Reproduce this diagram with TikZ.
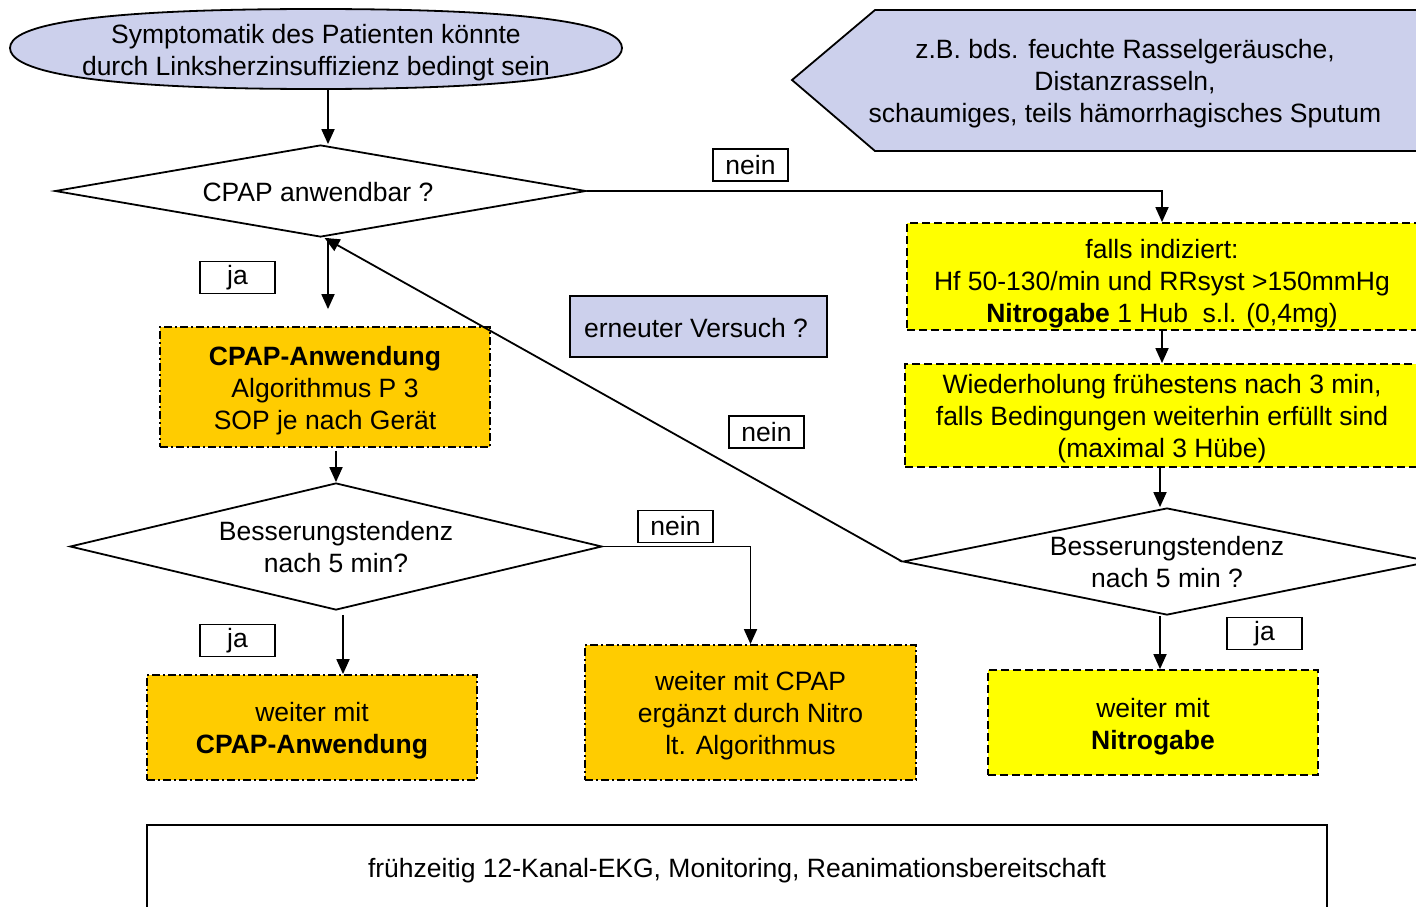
\documentclass[tikz,border=0pt]{standalone}
\usepackage{fontspec}
\setmainfont{Liberation Sans}
\usetikzlibrary{shapes.geometric,arrows.meta}
\definecolor{lav}{RGB}{204,208,236}
\definecolor{ora}{RGB}{255,204,0}
\definecolor{yel}{RGB}{255,255,0}

\begin{document}
\begin{tikzpicture}[x=1pt,y=-1pt,
  txt/.style={font=\fontsize{26.5}{32}\selectfont, align=center, inner sep=0pt},
  conn/.style={line width=1.8pt},
  arr/.style={conn, -{Triangle[length=15pt,width=13pt]}},
  dia/.style={draw, shape=diamond, line width=1.8pt, inner sep=0pt, fill=white},
  ybox/.style={draw, fill=yel, line width=1.8pt, dash pattern=on 8pt off 4pt, inner sep=0pt},
  obox/.style={draw, fill=ora, line width=1.8pt, dash pattern=on 8pt off 3pt on 2pt off 3pt, inner sep=0pt},
  lbl/.style={txt, draw, fill=white, line width=1.5pt, minimum width=75pt, minimum height=32pt},
]
\useasboundingbox (0,0) rectangle (1416,906);
\clip (0,0) rectangle (1416,906);

% start shape: a full, flat-topped oval
\draw[fill=lav, line width=1.8pt]
  (316,9) .. controls (70,9) and (10,28) .. (10,48)
          .. controls (10,68) and (70,89) .. (316,89)
          .. controls (562,89) and (622,68) .. (622,48)
          .. controls (622,28) and (562,9) .. (316,9) -- cycle;
\node[inner sep=0pt, minimum width=612pt, minimum height=80pt] (start) at (316,49) {};
\node[txt] (starttxt) at (316,53) {Symptomatik des Patienten könnte\\durch Linksherzinsuffizienz bedingt sein};

% hint shape (pointing left)
\draw[line width=1.8pt, fill=lav] (792,80) -- (875,10) -- (1440,10) -- (1440,151) -- (875,151) -- cycle;
\node[txt] (hint) at (1125,84) {z.B. bds. feuchte Rasselgeräusche,\\Distanzrasseln,\\schaumiges, teils hämorrhagisches Sputum};

% decisions
\node[dia, minimum width=531pt, minimum height=92pt] (d1) at (320.5,191) {};
\node[txt] (d1txt) at (318,192) {CPAP anwendbar ?};

\node[dia, minimum width=532pt, minimum height=127pt] (d2) at (336,546.5) {};
\node[txt] (d2txt) at (336,547) {Besserungstendenz\\nach 5 min?};

\node[dia, minimum width=528pt, minimum height=107pt] (d3) at (1167,561.5) {};
\node[txt] (d3txt) at (1167,562) {Besserungstendenz\\nach 5 min ?};

% CPAP branch
\node[obox, minimum width=330pt, minimum height=120pt] (cpap) at (325,387) {};
\node[txt] (cpaptxt) at (325,391) {\textbf{CPAP-Anwendung}\\Algorithmus P 3\\SOP je nach Gerät};
\node[obox, minimum width=330pt, minimum height=105pt] (abox) at (312,727.5) {};
\node[txt] (aboxtxt) at (312,731) {weiter mit\\\textbf{CPAP-Anwendung}};
\node[obox, minimum width=331pt, minimum height=135pt] (cbox) at (750.5,712.5) {};
\node[txt] (cboxtxt) at (750.5,716) {weiter mit CPAP\\ergänzt durch Nitro\\lt. Algorithmus};

% nitro branch
\node[ybox, minimum width=510pt, minimum height=107pt] (y1) at (1162,276.5) {};
\node[txt] (y1txt) at (1162,283.5) {falls indiziert:\\Hf 50-130/min und RRsyst >150mmHg\\\textbf{Nitrogabe} 1 Hub\ \ s.l. (0,4mg)};
\node[ybox, minimum width=514pt, minimum height=103pt] (y2) at (1162,415.5) {};
\node[txt] (y2txt) at (1162,418.5) {Wiederholung frühestens nach 3 min,\\falls Bedingungen weiterhin erfüllt sind\\(maximal 3 Hübe)};
\node[ybox, minimum width=330pt, minimum height=105pt] (nbox) at (1153,722.5) {};
\node[txt] (nboxtxt) at (1153,726.5) {weiter mit\\\textbf{Nitrogabe}};

% retry note
\node[draw, fill=lav, line width=1.5pt, minimum width=257pt, minimum height=61pt, inner sep=0pt] (retry) at (698.5,326.5) {};
\node[txt] (retrytxt) at (696,328.5) {erneuter Versuch ?};

% bottom note
\node[draw, line width=1.5pt, minimum width=1180pt, minimum height=86pt, inner sep=0pt] (note) at (737,868) {};
\node[txt] (notetxt) at (737,871) {frühzeitig 12-Kanal-EKG, Monitoring, Reanimationsbereitschaft};

% connectors
\draw[arr] ([xshift=12pt]start.south) -- ([xshift=12pt]start.south |- d1.north);
\draw[arr] (d1.east) -| (y1.north);
\draw[arr, shorten >=17pt] ([xshift=7.5pt]d1.south) -- ([xshift=7.5pt]d1.south |- cpap.north);
\draw[arr] (d3.west) -- ([xshift=4pt]d1.south);
\draw[arr] ([xshift=11pt,yshift=-3pt]cpap.south) -- (d2.north);
\draw[arr] (d2.east) -| (cbox.north);
\draw[arr, shorten <=4pt] ([xshift=7pt]d2.south) -- ([xshift=7pt]d2.south |- abox.north);
\draw[arr] (y1.south) -- (y2.north);
\draw[arr] ([xshift=-2pt]y2.south) -- ([xshift=-2pt]y2.south |- d3.north);
\draw[arr] ([xshift=-7pt]d3.south) -- ([xshift=-7pt]d3.south |- nbox.north);

% branch labels
\node[lbl] (nein1) at (750.5,165) {nein};
\node[lbl] (ja1) at (237.5,277.5) {ja};
\node[lbl] (nein2) at (766.5,432) {nein};
\node[lbl] (nein3) at (675.5,526.5) {nein};
\node[lbl] (ja2) at (237.5,640.5) {ja};
\node[lbl] (ja3) at (1264.5,633.5) {ja};
\end{tikzpicture}
\end{document}
